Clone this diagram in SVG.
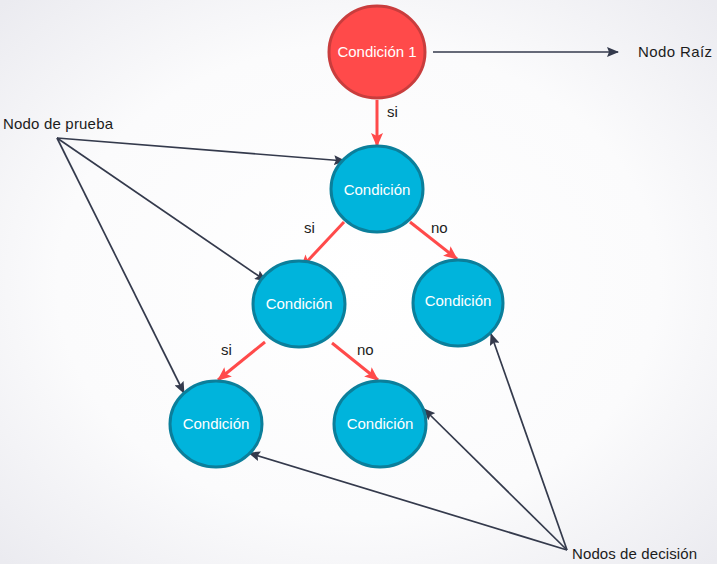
<svg xmlns="http://www.w3.org/2000/svg" width="717" height="564" viewBox="0 0 717 564">
<defs>
<radialGradient id="bg" cx="50%" cy="50%" r="70%">
<stop offset="0" stop-color="#ffffff"/>
<stop offset="0.6" stop-color="#fbfbfc"/>
<stop offset="1" stop-color="#ebebf0"/>
</radialGradient>
<marker id="dh" viewBox="0 0 12 10" refX="11" refY="5" markerWidth="12" markerHeight="10" markerUnits="userSpaceOnUse" orient="auto">
<path d="M0,0 L12,5 L0,10 L2,5 Z" fill="#343a4c"/>
</marker>
<marker id="rh" viewBox="0 0 14 12" refX="13" refY="6" markerWidth="14" markerHeight="12" markerUnits="userSpaceOnUse" orient="auto">
<path d="M0,0 L14,6 L0,12 L3,6 Z" fill="#ff4a4a"/>
</marker>
</defs>
<style>
.blue{fill:#00b4dc;stroke:#0b7f9b;stroke-width:3}
.red{fill:#ff4a4a;stroke:#c93d3d;stroke-width:3}
.nt{font-family:"Liberation Sans",Arial,sans-serif;font-size:15px;fill:#ffffff;text-anchor:middle}
.lb{font-family:"Liberation Sans",Arial,sans-serif;font-size:15px;fill:#1c1c1c}
.dk{stroke:#343a4c;stroke-width:1.7;fill:none;marker-end:url(#dh)}
.rd{stroke:#ff4a4a;stroke-width:3;fill:none;marker-end:url(#rh)}
</style>
<rect width="717" height="564" fill="url(#bg)"/>
<g id="connectors">
<line class="rd" x1="377" y1="100" x2="377" y2="146"/>
<line class="rd" x1="344" y1="222" x2="301" y2="268"/>
<line class="rd" x1="410" y1="222" x2="457" y2="259"/>
<line class="rd" x1="265" y1="342" x2="218" y2="380"/>
<line class="rd" x1="332" y1="343" x2="378" y2="380"/>
<line class="dk" x1="433" y1="52" x2="618" y2="52"/>
<line class="dk" x1="57" y1="138" x2="345" y2="161"/>
<line class="dk" x1="57" y1="138" x2="266" y2="281"/>
<line class="dk" x1="57" y1="138" x2="184" y2="393"/>
<line class="dk" x1="567" y1="550" x2="249" y2="453"/>
<line class="dk" x1="567" y1="550" x2="424" y2="409"/>
<line class="dk" x1="567" y1="550" x2="491" y2="334"/>
<text class="lb" x="387" y="117">si</text>
<text class="lb" x="304" y="233">si</text>
<text class="lb" x="431" y="233">no</text>
<text class="lb" x="221" y="355">si</text>
<text class="lb" x="357" y="355">no</text>
</g>
<g id="root">
<ellipse class="red" cx="377" cy="52" rx="48" ry="46"/>
<text class="nt" x="377" y="57" font-size="15.5">Condición 1</text>
</g>
<g id="nodeA">
<ellipse class="blue" cx="377" cy="189" rx="46" ry="43"/>
<text class="nt" x="377" y="195">Condición</text>
</g>
<g id="nodeB">
<ellipse class="blue" cx="299" cy="304" rx="46" ry="43"/>
<text class="nt" x="299" y="309">Condición</text>
</g>
<g id="nodeC">
<ellipse class="blue" cx="458" cy="303" rx="45" ry="43"/>
<text class="nt" x="458" y="306">Condición</text>
</g>
<g id="nodeD">
<ellipse class="blue" cx="216" cy="424" rx="46" ry="43"/>
<text class="nt" x="216" y="429">Condición</text>
</g>
<g id="nodeE">
<ellipse class="blue" cx="380" cy="424" rx="46" ry="43"/>
<text class="nt" x="380" y="429">Condición</text>
</g>
<g id="label-raiz">
<text class="lb" x="638" y="57" textLength="74">Nodo Raíz</text>
</g>
<g id="label-prueba">
<text class="lb" x="3" y="129" textLength="110">Nodo de prueba</text>
</g>
<g id="label-decision">
<text class="lb" x="572" y="559" textLength="125">Nodos de decisión</text>
</g>
</svg>
